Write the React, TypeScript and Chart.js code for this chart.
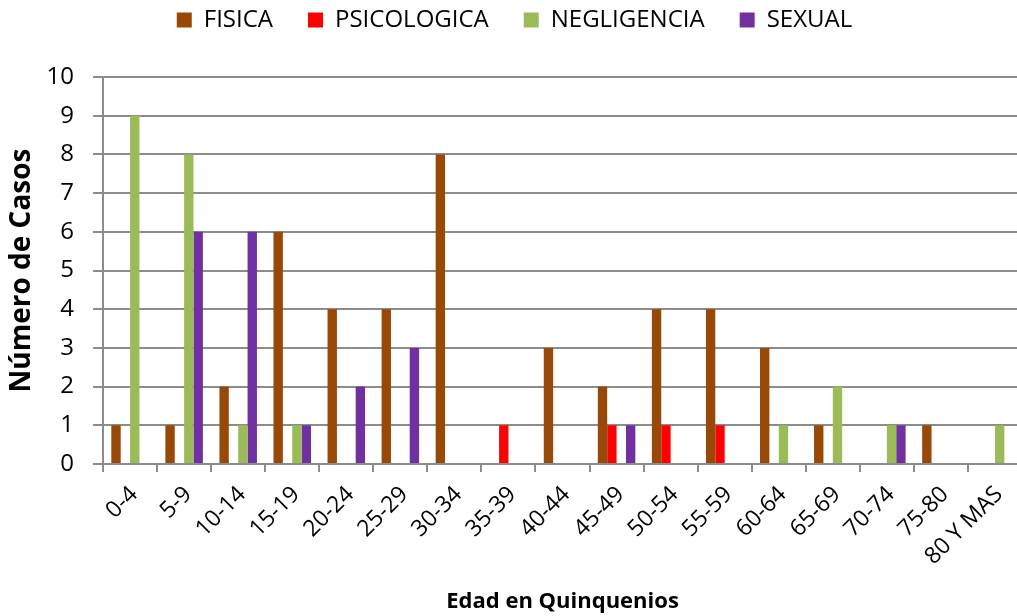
import { useEffect, useRef } from 'react';
import { Chart, registerables } from 'chart.js';

Chart.register(...registerables);

const categories = ['0-4', '5-9', '10-14', '15-19', '20-24', '25-29', '30-34', '35-39', '40-44', '45-49', '50-54', '55-59', '60-64', '65-69', '70-74', '75-80', '80 Y MAS'];
const fisica = [1, 1, 2, 6, 4, 4, 8, 0, 3, 2, 4, 4, 3, 1, 0, 1, 0];
const psicologica = [0, 0, 0, 0, 0, 0, 0, 1, 0, 1, 1, 1, 0, 0, 0, 0, 0];
const negligencia = [9, 8, 1, 1, 0, 0, 0, 0, 0, 0, 0, 0, 1, 2, 1, 0, 1];
const sexual = [0, 6, 6, 1, 2, 3, 0, 0, 0, 1, 0, 0, 0, 0, 1, 0, 0];
const seriesNames = ['FISICA', 'PSICOLOGICA', 'NEGLIGENCIA', 'SEXUAL'];
const seriesColors = ['#984807', '#FF0000', '#9BBB59', '#7030A0'];
const yMin = 0;
const yMax = 10;
const yStep = 1;

const FONT = "'Open Sans', 'DejaVu Sans', sans-serif";
const GRID = '#8c8c8c';
const LEGEND_HEIGHT = 104;

export default function App() {
  const ref = useRef<HTMLCanvasElement | null>(null);

  useEffect(() => {
    document.body.style.margin = '0';
    const canvas = ref.current;
    if (!canvas) return;
    const values = [fisica, psicologica, negligencia, sexual];
    const legendFit = {
      id: 'legendFit',
      beforeLayout(chart: any) {
        const lg = chart.legend;
        if (lg && !lg._fitPatched) {
          const orig = lg.fit;
          lg.fit = function () {
            orig.call(this);
            this.height = LEGEND_HEIGHT;
          };
          lg._fitPatched = true;
        }
      },
    };
    const chart = new Chart(canvas, {
      type: 'bar',
      data: {
        labels: categories,
        datasets: seriesNames.map((name, i) => ({
          label: name,
          data: values[i],
          backgroundColor: seriesColors[i],
          borderWidth: 0,
          barPercentage: 1,
          categoryPercentage: 0.694,
        })),
      },
      options: {
        responsive: false,
        animation: false,
        devicePixelRatio: 1,
        layout: { padding: { top: -27, left: 7, right: 7, bottom: 0 } },
        plugins: {
          legend: {
            position: 'top',
            labels: {
              boxWidth: 15,
              boxHeight: 15,
              padding: 35,
              color: '#000',
              font: { family: FONT, size: 24 },
            },
          },
          tooltip: { enabled: false },
        },
        scales: {
          x: {
            grid: {
              display: true,
              drawOnChartArea: false,
              drawTicks: true,
              tickLength: 8,
              color: GRID,
              lineWidth: 2,
              offset: true,
            },
            border: { display: true, color: GRID, width: 2 },
            ticks: {
              minRotation: 45,
              maxRotation: 45,
              autoSkip: false,
              padding: 9,
              labelOffset: 4,
              color: '#000',
              font: { family: FONT, size: 23 },
            },
            title: {
              display: true,
              text: 'Edad en Quinquenios',
              color: '#000',
              font: { family: FONT, size: 22, weight: 'bold', lineHeight: 0.5 },
              padding: { top: 17, bottom: 8.5 },
            },
          },
          y: {
            min: yMin,
            max: yMax,
            grid: {
              color: GRID,
              lineWidth: 2,
              tickLength: 10,
              drawTicks: true,
            },
            border: { display: true, color: GRID, width: 2 },
            ticks: {
              stepSize: yStep,
              padding: 19,
              color: '#000',
              font: { family: FONT, size: 24 },
            },
            title: {
              display: true,
              text: 'Número de Casos',
              color: '#000',
              font: { family: FONT, size: 28, weight: 'bold', lineHeight: 0.4 },
              padding: { top: 9.4, bottom: 0 },
            },
          },
        },
      },
      plugins: [legendFit],
    });
    return () => chart.destroy();
  }, []);

  return (
    <div style={{ width: 1017, height: 616, overflow: 'hidden', position: 'relative' }}>
      <canvas ref={ref} width={1029} height={616} style={{ display: 'block', width: 1029, height: 616 }} />
    </div>
  );
}
